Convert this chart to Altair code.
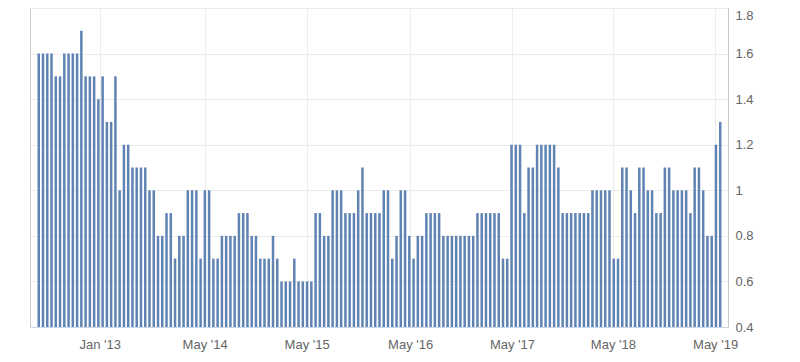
import json
import altair as alt
import pandas as pd

# Bar values, read left to right (one per bar)
values = [
    1.6, 1.6, 1.6, 1.6, 1.5, 1.5, 1.6, 1.6, 1.6, 1.6,
    1.7, 1.5, 1.5, 1.5, 1.4, 1.5, 1.3, 1.3, 1.5, 1.0,
    1.2, 1.2, 1.1, 1.1, 1.1, 1.1, 1.0, 1.0, 0.8, 0.8,
    0.9, 0.9, 0.7, 0.8, 0.8, 1.0, 1.0, 1.0, 0.7, 1.0,
    1.0, 0.7, 0.7, 0.8, 0.8, 0.8, 0.8, 0.9, 0.9, 0.9,
    0.8, 0.8, 0.7, 0.7, 0.7, 0.8, 0.7, 0.6, 0.6, 0.6,
    0.7, 0.6, 0.6, 0.6, 0.6, 0.9, 0.9, 0.8, 0.8, 1.0,
    1.0, 1.0, 0.9, 0.9, 0.9, 1.0, 1.1, 0.9, 0.9, 0.9,
    0.9, 1.0, 1.0, 0.7, 0.8, 1.0, 1.0, 0.8, 0.7, 0.8,
    0.8, 0.9, 0.9, 0.9, 0.9, 0.8, 0.8, 0.8, 0.8, 0.8,
    0.8, 0.8, 0.8, 0.9, 0.9, 0.9, 0.9, 0.9, 0.9, 0.7,
    0.7, 1.2, 1.2, 1.2, 0.9, 1.1, 1.1, 1.2, 1.2, 1.2,
    1.2, 1.2, 1.1, 0.9, 0.9, 0.9, 0.9, 0.9, 0.9, 0.9,
    1.0, 1.0, 1.0, 1.0, 1.0, 0.7, 0.7, 1.1, 1.1, 1.0,
    0.9, 1.1, 1.1, 1.0, 1.0, 0.9, 0.9, 1.1, 1.1, 1.0,
    1.0, 1.0, 1.0, 0.9, 1.1, 1.1, 1.0, 0.8, 0.8, 1.2, 1.3,
]

# X tick labels and their position in bar-index units
tick_labels = ["Jan '13", "May '14", "May '15", "May '16", "May '17", "May '18", "May '19"]
tick_index = [14.33, 38.95, 62.9, 87.2, 111.1, 134.8, 158.8]

# Y axis ticks
y_ticks = [0.4, 0.6, 0.8, 1.0, 1.2, 1.4, 1.6, 1.8]
y_min, y_max = 0.4, 1.8
x_domain = [-0.88, 160.65]

df = pd.DataFrame({"i": list(range(len(values))), "v": values})

FONT = "Liberation Sans"
label_expr = f"{json.dumps(tick_labels)}[indexof({json.dumps(tick_index)}, datum.value)]"

chart = (
    alt.Chart(df)
    .mark_bar(color="#5f84b4", size=2.5)
    .encode(
        x=alt.X(
            "i:Q",
            scale=alt.Scale(domain=x_domain, nice=False, zero=False),
            axis=alt.Axis(
                values=tick_index,
                labelExpr=label_expr,
                title=None,
                grid=True,
                gridColor="#ececec",
                ticks=False,
                domainColor="#ccd6eb",
                labelColor="#666666",
                labelFont=FONT,
                labelFontSize=13,
                labelPadding=11,
            ),
        ),
        y=alt.Y(
            "v:Q",
            scale=alt.Scale(domain=[y_min, y_max], nice=False, zero=False),
            axis=alt.Axis(
                orient="right",
                values=y_ticks,
                format=".1~f",
                title=None,
                grid=True,
                gridColor="#ececec",
                ticks=False,
                domainColor="#c8c8c8",
                labelColor="#666666",
                labelFont=FONT,
                labelFontSize=13,
                labelPadding=7,
                labelAlign="left",
                labelBaseline="middle",
                labelOffset={"condition": {"test": "datum.value >= 1.79", "value": 7}, "value": 0},
            ),
        ),
        y2=alt.datum(y_min),
    )
    .properties(
        width=698,
        height=319,
        autosize=alt.AutoSizeParams(type="none"),
        padding={"left": 22, "top": 0, "right": 62, "bottom": 27},
        background="white",
    )
    .configure_view(stroke="#cccccc", strokeWidth=1)
)

chart.save("out.html", embed_options={"renderer": "svg", "actions": False})
